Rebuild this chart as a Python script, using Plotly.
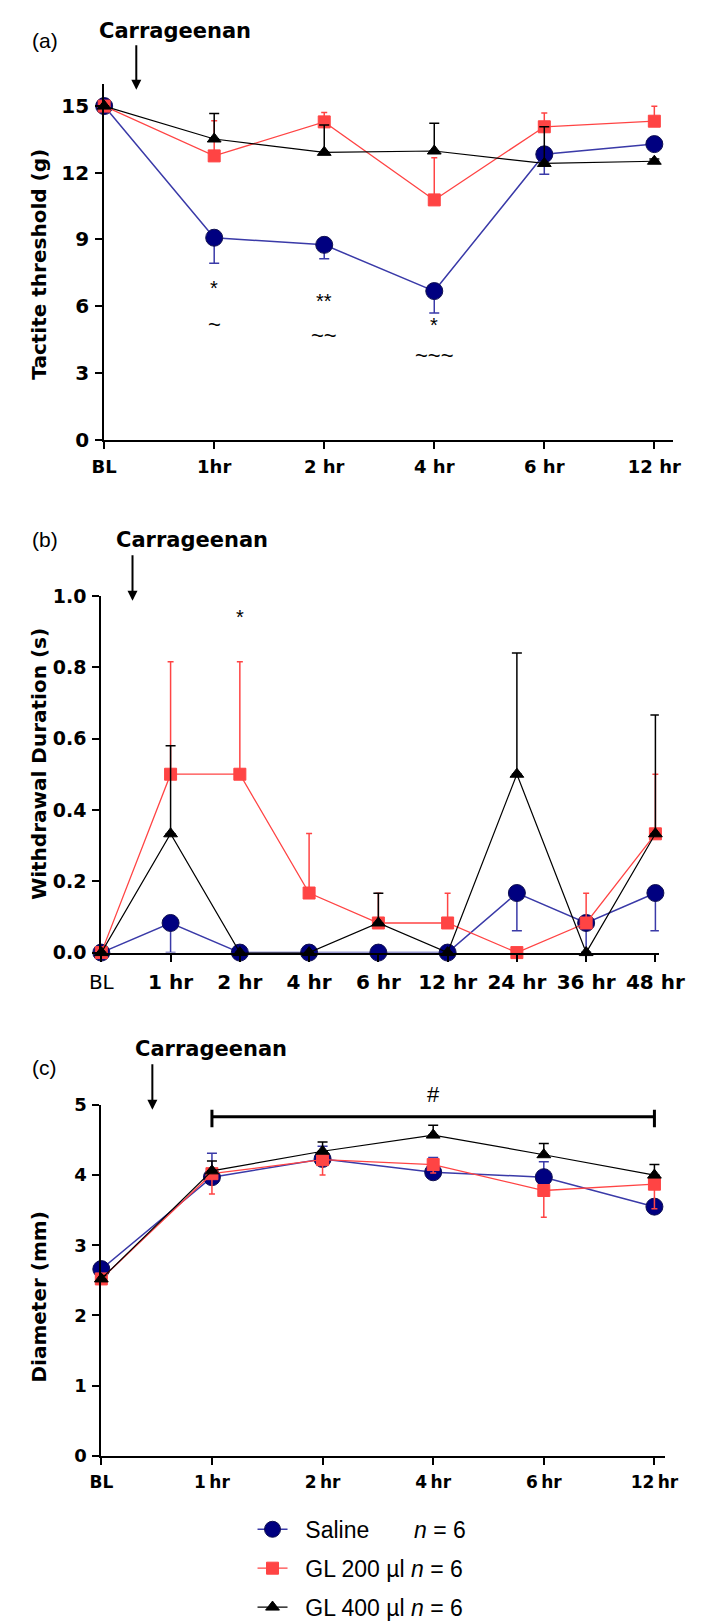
import plotly.graph_objects as go

W, H = 709, 1621

# ---------------- data ----------------
# Panel (a): tactile threshold (g)
a_labels = ["BL", "1hr", "2 hr", "4 hr", "6 hr", "12 hr"]
a_saline = [15.0, 9.08, 8.76, 6.68, 12.83, 13.29]
a_saline_err = [0.0, 1.15, 0.63, 0.99, 0.89, 0.2]      # drawn downward
a_gl200 = [15.0, 12.76, 14.29, 10.78, 14.07, 14.32]
a_gl200_err = [0.0, 1.58, 0.42, 1.9, 0.62, 0.67]        # drawn upward
a_gl400 = [15.0, 13.52, 12.92, 12.98, 12.42, 12.52]
a_gl400_err = [0.0, 1.15, 1.23, 1.25, 1.65, 0.1]        # drawn upward
a_sig_x = [1, 1, 2, 2, 3, 3]
a_sig_y = [6.8, 5.16, 6.22, 4.68, 5.16, 3.8]
a_sig_text = ["*", "~", "**", "~~", "*", "~~~"]

# Panel (b): withdrawal duration (s)
b_labels = ["BL", "1 hr", "2 hr", "4 hr", "6 hr", "12 hr", "24 hr", "36 hr", "48 hr"]
b_saline = [0.0, 0.083, 0.0, 0.0, 0.0, 0.0, 0.167, 0.083, 0.167]
b_saline_err = [0.0, 0.083, 0.0, 0.0, 0.0, 0.0, 0.106, 0.083, 0.106]   # downward
b_gl200 = [0.0, 0.5, 0.5, 0.167, 0.083, 0.083, 0.0, 0.083, 0.333]
b_gl200_err = [0.0, 0.315, 0.315, 0.167, 0.083, 0.083, 0.0, 0.083, 0.167]  # upward
b_gl400 = [0.0, 0.333, 0.0, 0.0, 0.083, 0.0, 0.5, 0.0, 0.333]
b_gl400_err = [0.0, 0.247, 0.0, 0.0, 0.083, 0.0, 0.34, 0.0, 0.333]        # upward
b_sig_x = [2]
b_sig_y = [0.94]
b_sig_text = ["*"]

# Panel (c): diameter (mm)
c_labels = ["BL", "1\u2009hr", "2\u2009hr", "4\u2009hr", "6\u2009hr", "12\u2009hr"]
c_saline = [2.66, 3.97, 4.23, 4.04, 3.97, 3.55]
c_saline_err = [0.05, 0.34, 0.18, 0.21, 0.22, 0.08]     # upward
c_gl200 = [2.52, 4.02, 4.22, 4.15, 3.78, 3.87]
c_gl200_err = [0.05, 0.29, 0.22, 0.12, 0.38, 0.35]      # downward
c_gl400 = [2.52, 4.06, 4.34, 4.57, 4.29, 4.0]
c_gl400_err = [0.05, 0.14, 0.13, 0.14, 0.16, 0.15]      # upward
c_bracket_y = 4.83
c_sig_x = 3
c_sig_text = "#"

legend_names = ["Saline", "GL 200 \u00b5l", "GL 400 \u00b5l"]
legend_n = [6, 6, 6]

# ---------------- styles ----------------
WIDE = "DejaVu Sans, Verdana, sans-serif"
ARIAL = "Liberation Sans, Arial, sans-serif"
BLUE_LINE = "#3a3aa8"
NAVY = "#000080"
RED = "#ff4444"
BLACK = "#000000"

def px_dom_x(a, b):
    return [a / W, b / W]

def px_dom_y(top, bottom):
    return [1 - bottom / H, 1 - top / H]

fig = go.Figure()

def add_panel(xa, ya, labels, sal, sal_err, sal_dir, g2, g2_err, g2_dir, g4, g4_err, g4_dir, showlegend):
    xs = list(range(len(labels)))
    def err(vals, d):
        zeros = [0] * len(vals)
        if d == "up":
            return dict(type="data", symmetric=False, array=vals, arrayminus=zeros)
        return dict(type="data", symmetric=False, array=zeros, arrayminus=vals)
    specs = [
        (sal, sal_err, sal_dir, BLUE_LINE, NAVY, "circle", 17, "#101050", 1.5, legend_names[0], legend_n[0], 5),
        (g2, g2_err, g2_dir, RED, RED, "square", 12, RED, 1.3, legend_names[1], legend_n[1], 3),
        (g4, g4_err, g4_dir, BLACK, BLACK, "triangle-up", 12, BLACK, 1.2, legend_names[2], legend_n[2], 5),
    ]
    for vals, e, d, lc, mc, sym, size, outline, lw, nm, n, cw in specs:
        ed = err(e, d)
        ed.update(color=lc, thickness=1.5, width=cw)
        pad = "\u00a0" * (7 if nm == "Saline" else 1)
        fig.add_trace(go.Scatter(
            x=xs, y=vals, mode="lines+markers", xaxis=xa, yaxis=ya,
            line=dict(color=lc, width=lw),
            marker=dict(symbol=sym, size=size, color=mc, line=dict(color=outline, width=1)),
            error_y=ed, cliponaxis=False,
            name=f"\u00a0\u00a0{nm}{pad}<i>n</i> = {n}", showlegend=showlegend,
            legendgroup=nm,
        ))

add_panel("x", "y", a_labels, a_saline, a_saline_err, "down", a_gl200, a_gl200_err, "up",
          a_gl400, a_gl400_err, "up", True)
add_panel("x2", "y2", b_labels, b_saline, b_saline_err, "down", b_gl200, b_gl200_err, "up",
          b_gl400, b_gl400_err, "up", False)
add_panel("x3", "y3", c_labels, c_saline, c_saline_err, "up", c_gl200, c_gl200_err, "down",
          c_gl400, c_gl400_err, "up", False)

# significance bracket in panel (c)
fig.add_trace(go.Scatter(
    x=[1, 5], y=[c_bracket_y, c_bracket_y], xaxis="x3", yaxis="y3", mode="lines",
    line=dict(color="black", width=3), showlegend=False, hoverinfo="skip",
    error_y=dict(type="data", array=[0.1, 0.1], arrayminus=[0.15, 0.15], symmetric=False,
                 color="black", thickness=3, width=0),
    cliponaxis=False,
))

axis_common = dict(showline=True, linecolor="black", linewidth=2, ticks="outside",
                   ticklen=7, tickwidth=2, tickcolor="black", showgrid=False, zeroline=False,
                   fixedrange=True)

def xaxis(dom, labels, rng, anchor, size, weight="bold"):
    return dict(domain=dom, range=rng, tickmode="array", tickvals=list(range(len(labels))),
                ticktext=labels, anchor=anchor, ticklabelstandoff=3, tickangle=0,
                tickfont=dict(family=WIDE, size=size, color="black", weight=weight), **axis_common)

def yaxis(dom, rng, dtick, anchor, size, fmt=None):
    d = dict(domain=dom, range=rng, dtick=dtick, tick0=0, anchor=anchor, ticklabelstandoff=2,
             tickfont=dict(family=WIDE, size=size, color="black", weight="bold"), **axis_common)
    if fmt:
        d["tickformat"] = fmt
    return d

fig.update_layout(
    width=W, height=H, margin=dict(l=0, r=0, t=0, b=0),
    paper_bgcolor="white", plot_bgcolor="white",
    font=dict(family=ARIAL, color="black"),
    xaxis=xaxis(px_dom_x(88, 690), a_labels, [0, 5.17], "y", 18),
    yaxis=yaxis(px_dom_y(66, 428), [0, 16], 3, "x", 20),
    xaxis2=xaxis(px_dom_x(85, 675), b_labels, [0, 8.05], "y2", 20),
    yaxis2=yaxis(px_dom_y(587, 950), [0, 1], 0.2, "x2", 19, ".1f"),
    xaxis3=xaxis(px_dom_x(85, 682), c_labels, [0, 5.1], "y3", 17),
    yaxis3=yaxis(px_dom_y(1105, 1462), [0, 5], 1, "x3", 18),
    legend=dict(x=245 / W, y=1 - 1515 / H, xanchor="left", yanchor="top",
                font=dict(family=ARIAL, size=23, color="black"),
                tracegroupgap=6, itemwidth=30, bgcolor="rgba(0,0,0,0)"),
    showlegend=True,
)
# BL label of panel (b) is not bold in the reference
fig.layout.xaxis2.ticktext = ["BL"] + [f"<b>{t}</b>" for t in b_labels[1:]]
fig.layout.xaxis2.tickfont.weight = "normal"

annotations = []
def ann(**kw):
    kw.setdefault("xanchor", "center")
    kw.setdefault("yanchor", "middle")
    kw.setdefault("showarrow", False)
    annotations.append(kw)

for xv, yv, t in zip(a_sig_x, a_sig_y, a_sig_text):
    ann(x=xv, y=yv, xref="x", yref="y", text=t,
        font=dict(family=ARIAL, size=22 if "~" in t else 20, color="black"))
for xv, yv, t in zip(b_sig_x, b_sig_y, b_sig_text):
    ann(x=xv, y=yv, xref="x2", yref="y2", text=t, font=dict(family=ARIAL, size=20, color="black"))
# "#" sits just above the top of the y range, so anchor at the top and shift up
ann(x=c_sig_x, y=5, xref="x3", yref="y3", yshift=10, text=c_sig_text,
    font=dict(family=ARIAL, size=22, color="black"))

for txt, yc in [("Tactite threshold (g)", 249), ("Withdrawal Duration (s)", 758),
                ("Diameter (mm)", 1300)]:
    ann(x=19 / W, y=1 - yc / H, xref="paper", yref="paper", text=f"<b>{txt}</b>",
        textangle=-90, font=dict(family=WIDE, size=20, color="black"))
for lab, ly, cx, cy, axx, ay0, ay1 in [("(a)", 22, 163, 12, 122, 26, 72),
                                       ("(b)", 530, 181, 530, 118, 545, 592),
                                       ("(c)", 1067, 201, 1048, 139, 1063, 1110)]:
    ann(x=25 / W, y=1 - ly / H, xref="paper", yref="paper", text=lab,
        font=dict(family=ARIAL, size=21, color="black"))
    ann(x=cx / W, y=1 - cy / H, xref="paper", yref="paper", text="<b>Carrageenan</b>",
        font=dict(family=WIDE, size=21, color="black"))
    annotations.append(dict(x=axx / W, y=1 - ay1 / H, xref="paper", yref="paper", text="",
                            showarrow=True, arrowhead=2, arrowsize=1, arrowwidth=2,
                            arrowcolor="black", ax=0, ay=-(ay1 - ay0)))
fig.update_layout(annotations=annotations)

fig.write_html("out.html")
